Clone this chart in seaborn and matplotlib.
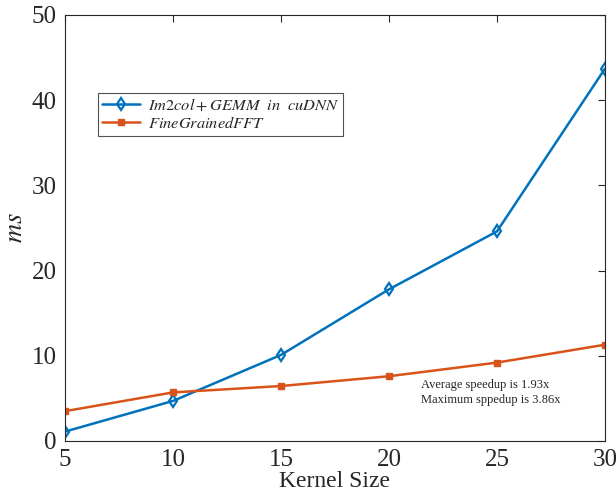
import matplotlib
matplotlib.use("Agg")
import matplotlib.pyplot as plt
import seaborn as sns
import pandas as pd

kernel_sizes = [5, 10, 15, 20, 25, 30]
cudnn_ms = [1.1, 4.7, 10.1, 17.8, 24.6, 43.7]
fft_ms = [3.5, 5.7, 6.45, 7.6, 9.2, 11.3]
series_names = [r"$Im2col + GEMM\ \ in\ \ cuDNN$", r"$FineGrainedFFT$"]
colors = ["#0072BD", "#D95319"]

sns.set_theme(style="white")
plt.rcParams['font.family'] = ['Liberation Serif', 'DejaVu Serif']
plt.rcParams['mathtext.fontset'] = 'stix'

df = pd.DataFrame({
    "Kernel Size": kernel_sizes * 2,
    "ms": cudnn_ms + fft_ms,
    "series": [series_names[0]] * len(kernel_sizes) + [series_names[1]] * len(kernel_sizes),
})

fig = plt.figure(figsize=(6.16, 5.01), dpi=100)
ax = fig.add_axes([0.1055, 0.1198, 0.8766, 0.8503])

sns.lineplot(data=df, x="Kernel Size", y="ms", hue="series", style="series",
             palette=colors, markers=["d", "s"], dashes=False,
             markersize=7, linewidth=1.8, ax=ax, legend=True)

def style_line(ln):
    c = ln.get_color()
    ln.set_markeredgecolor(c)
    if ln.get_marker() == "d":
        ln.set_markerfacecolor("none")
        ln.set_markersize(6)
        ln.set_markeredgewidth(1.6)
    elif ln.get_marker() == "s":
        ln.set_markerfacecolor(c)
        ln.set_markersize(5)
        ln.set_markeredgewidth(1.0)

for ln in ax.lines:
    style_line(ln)

ax.set_xlim(5, 30)
ax.set_ylim(0, 50)
ax.set_xticks(kernel_sizes)
ax.set_yticks([0, 10, 20, 30, 40, 50])
ax.tick_params(direction="in", length=5, width=0.8, colors="#262626",
               labelsize=18, top=True, right=True, pad=6)
for s in ax.spines.values():
    s.set_visible(True)
    s.set_color("#262626")
    s.set_linewidth(0.8)

ax.set_xlabel("Kernel Size", fontsize=17, labelpad=0)
ax.set_ylabel(r"$ms$", fontsize=19, labelpad=3)

leg = ax.legend(loc="upper left", bbox_to_anchor=(0.046, 0.835), fontsize=11.8,
                frameon=True, fancybox=False, edgecolor="#262626",
                handlelength=2.3, borderpad=0.25, labelspacing=0.15,
                handletextpad=0.5, title=None)
leg.get_frame().set_linewidth(0.8)
for ln in leg.get_lines():
    style_line(ln)

ax.text(21.48, 5.65, "Average speedup is 1.93x\nMaximum sppedup is 3.86x",
        fontsize=9, va="center", ha="left", linespacing=1.3)

fig.savefig("out.png", dpi=100)
